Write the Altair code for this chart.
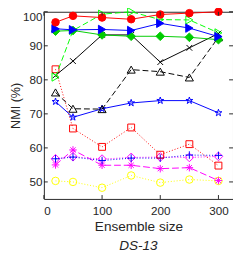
import altair as alt
import pandas as pd

ensemble_sizes = [20, 50, 100, 150, 200, 250, 300]

red_circle = [96.9, 98.8, 98.3, 97.8, 99.2, 99.6, 100.0]
blue_tri = [95.0, 94.7, 94.8, 94.5, 96.6, 95.2, 92.7]
green_diamond = [94.3, 94.5, 93.2, 92.8, 92.8, 92.5, 91.8]
green_tri_hollow = [80.8, 94.5, 99.3, 100.0, 97.7, 97.6, 93.8]
black_x = [81.3, 85.5, 93.2, 93.2, 85.2, 89.4, 93.6]
black_tri_up = [76.3, 71.5, 71.4, 83.0, 82.4, 80.7, 92.5]
blue_star = [73.6, 69.0, 71.5, 73.2, 73.9, 73.9, 70.3]
red_square = [83.1, 65.7, 60.3, 66.0, 58.0, 61.1, 54.8]
magenta_diamond = [56.8, 57.4, 56.7, 57.2, 57.3, 57.2, 57.5]
blue_plus = [56.8, 57.3, 56.3, 57.0, 57.0, 57.9, 57.8]
magenta_star = [55.0, 59.4, 54.9, 54.9, 53.9, 54.2, 50.4]
yellow_circle = [50.3, 50.0, 48.3, 51.9, 49.8, 50.7, 50.3]

x_ticks = [0, 100, 200, 300]
y_ticks = [50, 60, 70, 80, 90, 100]

W, H = 195, 193
INK = "#262626"
FONT = "Liberation Sans"

STAR = "M0,-1L0.225,-0.309L0.951,-0.309L0.363,0.118L0.588,0.809L0,0.382L-0.588,0.809L-0.363,0.118L-0.951,-0.309L-0.225,-0.309Z"
ASTER = "M-1,0L1,0M0,-1L0,1M-0.7,-0.7L0.7,0.7M-0.7,0.7L0.7,-0.7"
XMARK = "M-1,-1L1,1M-1,1L1,-1"
PLUS = "M-1,0L1,0M0,-1L0,1"

# (values, color, dash, shape, filled, size)
series = [
    (yellow_circle, "#ffff00", [1, 2], "circle", False, 60),
    (magenta_star, "#ff00ff", [7, 3], ASTER, False, 60),
    (magenta_diamond, "#ff00ff", [1, 2], "diamond", False, 80),
    (blue_plus, "#0000ff", [1, 2], PLUS, False, 60),
    (red_square, "#ff0000", [1, 2], "square", False, 50),
    (blue_star, "#0000ff", [], STAR, False, 55),
    (black_tri_up, "#000000", [6, 3], "triangle-up", False, 70),
    (black_x, "#000000", [], XMARK, False, 35),
    (green_tri_hollow, "#00ff00", [6, 3], "triangle-right", False, 70),
    (green_diamond, "#00cc00", [], "diamond", True, 80),
    (blue_tri, "#0000ff", [], "triangle-right", True, 75),
    (red_circle, "#ff0000", [], "circle", True, 60),
]

x_scale = alt.Scale(domain=[0, 325], nice=False, zero=False)
y_scale = alt.Scale(domain=[45, 100], nice=False, zero=False)

x_axis = alt.Axis(values=x_ticks, ticks=False, domain=False, grid=False,
                  labelFontSize=12, labelPadding=7, labelColor=INK, labelFont=FONT,
                  title="Ensemble size", titleFontSize=14, titleFontWeight="normal",
                  titleColor=INK, titleFont=FONT, titlePadding=4)
y_axis = alt.Axis(values=y_ticks, ticks=False, domain=False, grid=False,
                  labelFontSize=12, labelPadding=2, labelColor=INK, labelFont=FONT,
                  labelFlush=True,
                  title="NMI (%)", titleFontSize=13, titleFontWeight="normal",
                  titleColor=INK, titleFont=FONT, titlePadding=0)


def X(field):
    return alt.X(field, type="quantitative", scale=x_scale, axis=x_axis)


def Y(field):
    return alt.Y(field, type="quantitative", scale=y_scale, axis=y_axis)


layers = []
for vals, color, dash, shape, filled, size in series:
    df = pd.DataFrame({"size": ensemble_sizes, "nmi": vals})
    base = alt.Chart(df).encode(x=X("size"), y=Y("nmi"))
    line_kw = dict(color=color, strokeWidth=1)
    if dash:
        line_kw["strokeDash"] = dash
    layers.append(base.mark_line(**line_kw))
    pt_kw = dict(shape=shape, size=size, strokeWidth=1, opacity=1)
    if filled:
        pt_kw.update(filled=True, fill=color, stroke=color)
    else:
        pt_kw.update(filled=False, stroke=color, fillOpacity=0)
    layers.append(base.mark_point(**pt_kw))

yt = pd.DataFrame({"v": y_ticks})
xt = pd.DataFrame({"v": x_ticks})
layers.append(alt.Chart(yt).mark_rule(color=INK, strokeWidth=1).encode(
    y=Y("v"), x=alt.value(0), x2=alt.value(4)))
layers.append(alt.Chart(yt).mark_rule(color=INK, strokeWidth=1).encode(
    y=Y("v"), x=alt.value(W - 4), x2=alt.value(W)))
layers.append(alt.Chart(xt).mark_rule(color=INK, strokeWidth=1).encode(
    x=X("v"), y=alt.value(H), y2=alt.value(H - 4)))
layers.append(alt.Chart(xt).mark_rule(color=INK, strokeWidth=1).encode(
    x=X("v"), y=alt.value(0), y2=alt.value(4)))

chart = alt.layer(*layers).properties(
    width=W, height=H,
    title=alt.TitleParams("DS-13", orient="bottom", fontStyle="italic",
                          fontWeight="normal", fontSize=14, color=INK,
                          font=FONT, offset=6),
    autosize=alt.AutoSizeParams(type="none"),
    padding={"left": 37, "top": 0, "right": 0, "bottom": 57},
).configure_view(stroke=INK, strokeWidth=1)

chart.save("out.html", embed_options={"renderer": "svg", "actions": False})
